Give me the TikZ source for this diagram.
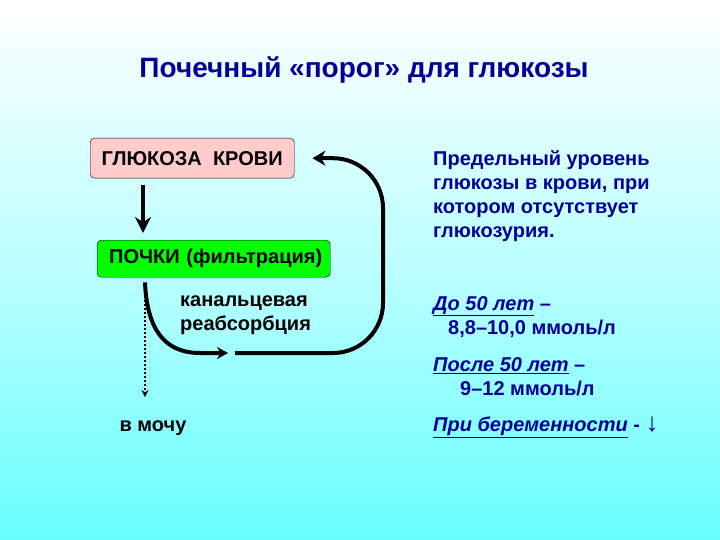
\documentclass[tikz,border=0pt]{standalone}
\usepackage{fontspec}
\setmainfont{Liberation Sans}
\usepackage{tikz}
\usetikzlibrary{arrows.meta,positioning}

\definecolor{navy}{HTML}{000099}
\definecolor{bgcyan}{HTML}{66FFFF}
\definecolor{boxpink}{HTML}{FFCCCC}
\definecolor{boxgreen}{HTML}{00FF00}

\begin{document}
\begin{tikzpicture}[x=1pt, y=-1pt, font=\bfseries\fontsize{20}{24}\selectfont,
  box/.style={draw, rounded corners=4pt, minimum height=40pt, inner sep=0pt, anchor=north west},
  note/.style={anchor=north west, align=left, inner sep=0pt},
  flow/.style={line width=4pt, -{Stealth[length=13pt, width=15pt]}},
  drip/.style={line width=1.6pt, dash pattern=on 2pt off 2pt, -{Stealth[length=7pt, width=7pt]}}]
  % background
  \shade[top color=white, bottom color=bgcyan, middle color=bgcyan!45] (0,0) rectangle (720,540);
  \useasboundingbox (0,0) rectangle (720,540);
  % title
  \node[text=navy, font=\bfseries\fontsize{28}{32}\selectfont] (title) at (364,70) {Почечный «порог» для глюкозы};
  % left part
  \node[box, fill=boxpink, minimum width=204pt] (blood) at (90,138) {ГЛЮКОЗА\ \ КРОВИ};
  \node[box, fill=boxgreen, minimum width=233pt, minimum height=37pt, align=left, text width=221pt]
    (kidney) at (97,240) {\hspace*{6pt}ПОЧКИ (фильтрация)};
  \node[note] (reab) at (180,296) {канальцевая\\реабсорбция};
  \node[anchor=west] (urine) at (116,428) {в мочу};
  \coordinate (down) at (143,0);
  \coordinate (drop) at (145,0);
  \coordinate (bend) at (383,0);
  \coordinate (gap) at (235,353);
  \draw[flow, -{Stealth[length=16pt, width=16pt]}] (blood.south -| down) ++(0,7) -- ([yshift=7pt]kidney.north -| down);
  \draw[drip, shorten <=7pt, shorten >=20pt] (kidney.south -| drop) -- (urine.north -| drop);
  \draw[flow, -{Stealth[length=11pt, width=12pt]}] ([yshift=-5pt]kidney.south -| drop)
    .. controls (147,330) and (165,353) .. (200,353) -- ([xshift=-7pt]gap);
  \draw[flow, rounded corners=50pt] (gap) -| (bend |- blood.east) -- ([xshift=18pt]blood.east);
  % right part
  \begin{scope}[text=navy]
    \node[note] (limit) at (433,150) {Предельный уровень\\глюкозы в крови, при\\котором отсутствует\\глюкозурия.};
    \node[note] (under) at (433,296) {\textit{\underline{До 50 лет}} –\\\hspace*{15pt}8,8–10,0 ммоль/л};
    \node[note] (over) at (433,357) {\textit{\underline{После 50 лет}} –\\\hspace*{27pt}9–12 ммоль/л};
    \node[note] (preg) at (433,417) {\textit{\underline{При беременности}} - {\mdseries\fontsize{26}{24}\selectfont ↓}};
  \end{scope}
\end{tikzpicture}
\end{document}
